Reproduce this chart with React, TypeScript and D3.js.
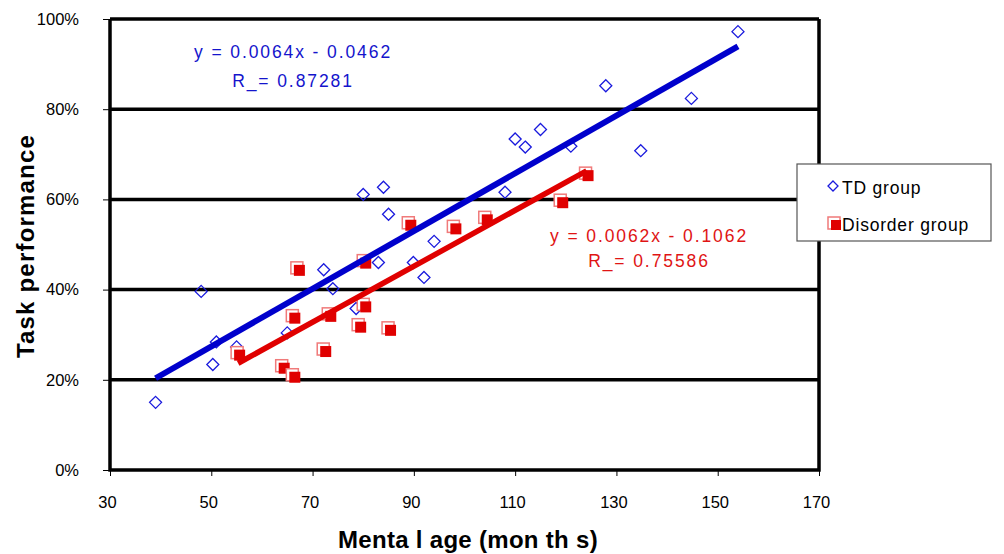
import React, { useRef, useEffect } from 'react';
import * as d3 from 'd3';

// TD group: mental age (months), task performance (fraction)
const tdAge = [39, 48, 50.3, 51, 55, 65, 72.2, 74, 78.6, 80, 83, 84, 85, 89.9, 92, 94, 108, 110, 112, 115, 121, 127.9, 134.8, 144.8, 154];
const tdPerf = [0.15, 0.396, 0.234, 0.284, 0.273, 0.304, 0.444, 0.402, 0.358, 0.611, 0.46, 0.627, 0.567, 0.46, 0.427, 0.507, 0.616, 0.734, 0.716, 0.755, 0.718, 0.852, 0.708, 0.824, 0.972];

// Disorder group
const disAge = [55.3, 64.1, 66.2, 66.2, 67.1, 72.3, 73.3, 79.2, 80.2, 80.2, 85.1, 89.1, 98, 104.2, 119.1, 124.1];
const disPerf = [0.258, 0.229, 0.209, 0.34, 0.446, 0.266, 0.344, 0.32, 0.462, 0.365, 0.313, 0.546, 0.538, 0.558, 0.596, 0.656];

// trendline coefficients as printed on the chart
const tdFit = { slope: 0.0064, icpt: -0.0462 };
const disFit = { slope: 0.0062, icpt: -0.1062 };

const xTicks = [30, 50, 70, 90, 110, 130, 150, 170];
const yTicks = [0, 0.2, 0.4, 0.6, 0.8, 1];

const W = 1004;
const H = 554;

const App = () => {
  const svgRef = useRef(null);

  useEffect(() => {
    const svg = d3.select(svgRef.current);
    svg.selectAll('*').remove();

    const marginLeft = 110;
    const marginRight = 185;
    const marginTop = 19;
    const marginBottom = 84;

    const x = d3.scaleLinear().domain([30, 170]).range([marginLeft, W - marginRight]);
    const y = d3.scaleLinear().domain([0, 1]).range([H - marginBottom, marginTop]);

    const font = 'Liberation Sans, Arial, sans-serif';
    const blue = '#0000cc';
    const red = '#e00000';

    svg.append('rect').attr('width', W).attr('height', H).attr('fill', 'white');

    // horizontal gridlines (thick black)
    svg.append('g')
      .selectAll('line')
      .data(yTicks.slice(1))
      .join('line')
      .attr('x1', x(30))
      .attr('x2', x(170))
      .attr('y1', d => y(d))
      .attr('y2', d => y(d))
      .attr('stroke', 'black')
      .attr('stroke-width', 3.5);

    // y axis with small outer ticks
    const yAxis = d3.axisLeft(y).tickValues(yTicks).tickFormat(d3.format('.0%')).tickSize(7).tickPadding(24);
    const gy = svg.append('g').attr('transform', `translate(${x(30)},0)`).call(yAxis);
    gy.select('.domain').remove();
    gy.selectAll('line').attr('stroke', 'black').attr('stroke-width', 1);
    gy.selectAll('text').attr('font-family', font).attr('font-size', 16.5).attr('fill', 'black');

    const xAxis = d3.axisBottom(x).tickValues(xTicks).tickSize(6).tickPadding(20);
    const gx = svg.append('g').attr('transform', `translate(0,${y(0)})`).call(xAxis);
    gx.select('.domain').remove();
    gx.selectAll('line').attr('stroke', 'black').attr('stroke-width', 1);
    gx.selectAll('text').attr('font-family', font).attr('font-size', 16.5).attr('fill', 'black').attr('dx', -3);

    // plot frame: left, bottom, right
    const frame = d3.path();
    frame.moveTo(x(30), y(1));
    frame.lineTo(x(30), y(0));
    frame.lineTo(x(170), y(0));
    frame.lineTo(x(170), y(1));
    svg.append('path').attr('d', frame.toString()).attr('fill', 'none').attr('stroke', 'black').attr('stroke-width', 3.5);

    // TD diamonds
    const diamond = (cx, cy, r) => `M${cx},${cy - r}L${cx + r},${cy}L${cx},${cy + r}L${cx - r},${cy}Z`;
    svg.append('g')
      .selectAll('path')
      .data(tdAge.map((a, i) => [a, tdPerf[i]]))
      .join('path')
      .attr('d', d => diamond(x(d[0]), y(d[1]), 6))
      .attr('fill', 'none')
      .attr('stroke', '#1a1add')
      .attr('stroke-width', 1.3);

    // Disorder squares: light outline offset up-left, filled square on top
    const sq = svg.append('g');
    disAge.forEach((a, i) => {
      const cx = x(a);
      const cy = y(disPerf[i]);
      sq.append('rect')
        .attr('x', cx - 7).attr('y', cy - 7).attr('width', 12).attr('height', 12)
        .attr('fill', 'white').attr('stroke', '#f07a7a').attr('stroke-width', 1.5);
      sq.append('rect')
        .attr('x', cx - 4).attr('y', cy - 4).attr('width', 11).attr('height', 11)
        .attr('fill', red);
    });

    // trendlines
    const line = d3.line().x(d => x(d[0])).y(d => y(d[1]));
    const fitPts = (ages, fit) => {
      const [lo, hi] = d3.extent(ages);
      return [[lo, fit.slope * lo + fit.icpt], [hi, fit.slope * hi + fit.icpt]];
    };
    svg.append('path').attr('d', line(fitPts(tdAge, tdFit))).attr('stroke', blue).attr('stroke-width', 6).attr('fill', 'none');
    svg.append('path').attr('d', line(fitPts(disAge, disFit))).attr('stroke', red).attr('stroke-width', 5.5).attr('fill', 'none');

    // equations
    const eq = (tx, ty, txt, col) => svg.append('text')
      .attr('x', tx).attr('y', ty).attr('text-anchor', 'middle')
      .attr('font-family', font).attr('font-size', 17.5).attr('letter-spacing', 1.9)
      .attr('fill', col).text(txt);
    eq(293, 58, 'y = 0.0064x - 0.0462', '#1414cc');
    eq(293, 87, 'R_= 0.87281', '#1414cc');
    eq(649, 242, 'y = 0.0062x - 0.1062', '#e01414');
    eq(649, 267, 'R_= 0.75586', '#e01414');

    // legend
    const lg = svg.append('g').attr('transform', 'translate(797,164)');
    lg.append('rect').attr('width', 194).attr('height', 77).attr('fill', 'white').attr('stroke', '#555').attr('stroke-width', 1.2);
    lg.append('path').attr('d', diamond(36, 22, 5)).attr('fill', 'none').attr('stroke', '#1a1add').attr('stroke-width', 1.3);
    lg.append('text').attr('x', 45).attr('y', 30).attr('font-family', font).attr('font-size', 17.5).attr('letter-spacing', 0.8).attr('fill', 'black').text('TD group');
    lg.append('rect').attr('x', 31).attr('y', 53).attr('width', 12).attr('height', 12).attr('fill', 'white').attr('stroke', '#f07a7a').attr('stroke-width', 1.5);
    lg.append('rect').attr('x', 34).attr('y', 56).attr('width', 10).attr('height', 10).attr('fill', red);
    lg.append('text').attr('x', 45).attr('y', 67).attr('font-family', font).attr('font-size', 17.5).attr('letter-spacing', 0.8).attr('fill', 'black').text('Disorder group');

    // axis titles
    svg.append('text')
      .attr('x', 468).attr('y', 548).attr('text-anchor', 'middle')
      .attr('font-family', font).attr('font-weight', 'bold').attr('font-size', 24).attr('letter-spacing', 0.3)
      .attr('fill', 'black').text('Menta l age (mon th s)');
    svg.append('text')
      .attr('transform', 'translate(34,246) rotate(-90)').attr('text-anchor', 'middle')
      .attr('font-family', font).attr('font-weight', 'bold').attr('font-size', 24).attr('letter-spacing', 1.2)
      .attr('fill', 'black').text('Task performance');
  }, []);

  return (
    <svg ref={svgRef} width={W} height={H} style={{ position: 'fixed', left: 0, top: 0, display: 'block' }} />
  );
};

export default App;
